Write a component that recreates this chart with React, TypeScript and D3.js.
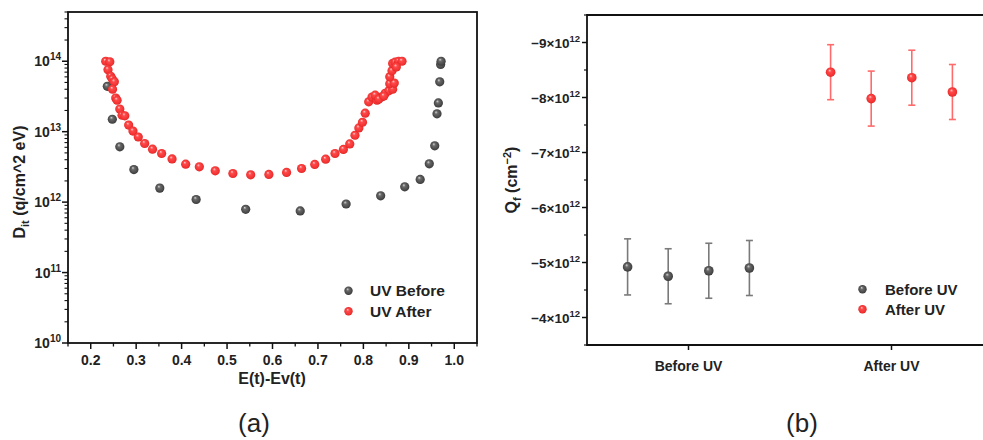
import React from 'react';
import * as d3 from 'd3';

// ---------- Data: panel (a) ----------
const beforeE = [0.2365, 0.2475, 0.264, 0.295, 0.352, 0.432, 0.541, 0.661, 0.762, 0.838, 0.891, 0.925, 0.945, 0.957, 0.962, 0.965, 0.968, 0.970, 0.971];
const beforeDit = [4.4e13, 1.5e13, 6.1e12, 2.9e12, 1.58e12, 1.09e12, 7.9e11, 7.5e11, 9.4e11, 1.23e12, 1.65e12, 2.1e12, 3.5e12, 6.3e12, 1.79e13, 2.56e13, 5.1e13, 9.0e13, 1.0e14];
const afterE = [0.233, 0.242, 0.238, 0.244, 0.2475, 0.252, 0.248, 0.255, 0.258, 0.264, 0.269, 0.275, 0.2835, 0.293, 0.3046, 0.3187, 0.336, 0.356, 0.379, 0.409, 0.439, 0.474, 0.5128, 0.552, 0.592, 0.631, 0.664, 0.693, 0.717, 0.7376, 0.756, 0.770, 0.7815, 0.790, 0.798, 0.804, 0.8117, 0.819, 0.830, 0.8396, 0.848, 0.856, 0.8644, 0.858, 0.868, 0.858, 0.863, 0.8644, 0.870, 0.8776, 0.885, 0.8725, 0.826, 0.834, 0.845];
const afterDit = [1.0e14, 9.8e13, 7.6e13, 6.1e13, 5.6e13, 5.1e13, 4.0e13, 3.0e13, 2.8e13, 2.1e13, 1.71e13, 1.68e13, 1.24e13, 1.02e13, 8.4e12, 6.8e12, 5.65e12, 4.9e12, 4.1e12, 3.46e12, 3.17e12, 2.78e12, 2.55e12, 2.44e12, 2.47e12, 2.64e12, 3.0e12, 3.43e12, 4.07e12, 4.9e12, 5.6e12, 6.7e12, 8.9e12, 1.13e13, 1.36e13, 1.83e13, 2.65e13, 3.1e13, 2.8e13, 3.1e13, 3.5e13, 3.8e13, 4.0e13, 4.8e13, 4.9e13, 6.0e13, 7.3e13, 9.3e13, 9.7e13, 1.0e14, 1.0e14, 8.3e13, 3.3e13, 2.9e13, 3.2e13];
const xTicksA = [0.2, 0.3, 0.4, 0.5, 0.6, 0.7, 0.8, 0.9, 1.0];
const yDecadesA = [10, 11, 12, 13, 14];
const legendA = ['UV Before', 'UV After'];

// ---------- Data: panel (b) ----------
const qCategories = ['Before UV', 'After UV'];
const qBeforeX = [0.7, 0.9, 1.1, 1.3];
const qBeforeVal = [-4.92e12, -4.75e12, -4.85e12, -4.90e12];
const qBeforeErr = [0.51e12, 0.5e12, 0.5e12, 0.5e12];
const qAfterX = [1.7, 1.9, 2.1, 2.3];
const qAfterVal = [-8.46e12, -7.98e12, -8.36e12, -8.10e12];
const qAfterErr = [0.5e12, 0.5e12, 0.5e12, 0.5e12];
const yTicksB = [-9, -8, -7, -6, -5, -4];
const legendB = ['Before UV', 'After UV'];

const FONT = '"Liberation Sans", Arial, Helvetica, sans-serif';
const AXIS = '#111';

function Sphere({ cx, cy, r, fill }: { cx: number; cy: number; r: number; fill: string }) {
  return <circle cx={cx} cy={cy} r={r} fill={fill} />;
}

export default function App() {
  // Panel (a) scales
  const xA = d3.scaleLinear().domain([0.15, 1.05]).range([68, 477]);
  const yA = d3.scaleLog().domain([1e10, 5e14]).range([343, 12]);
  const minorX = d3.range(0.15, 1.051, 0.1).map((v) => +v.toFixed(2));
  const minorY: number[] = [];
  for (let e = 10; e <= 14; e++) {
    for (let m = 2; m <= 9; m++) {
      const v = m * Math.pow(10, e);
      if (v <= 5e14) minorY.push(v);
    }
  }

  // Panel (b) scales
  const xB = d3.scaleLinear().domain([0.5, 2.5]).range([587, 993]);
  const yB = d3.scaleLinear().domain([-3.5e12, -9.5e12]).range([345, 15]);
  const minorYB = [-9.5, -8.5, -7.5, -6.5, -5.5, -4.5, -3.5];

  const grayFill = 'url(#gGray)';
  const redFill = 'url(#gRed)';

  return (
    <svg width={983} height={440} style={{ position: 'absolute', left: 0, top: 0, background: '#fff' }} fontFamily={FONT}>
      <defs>
        <radialGradient id="gGray" cx="0.5" cy="0.5" r="0.55" fx="0.38" fy="0.3">
          <stop offset="0" stopColor="#d8d8d8" />
          <stop offset="0.3" stopColor="#6a6a6a" />
          <stop offset="0.8" stopColor="#464646" />
          <stop offset="1" stopColor="#2e2e2e" />
        </radialGradient>
        <radialGradient id="gRed" cx="0.5" cy="0.5" r="0.55" fx="0.38" fy="0.3">
          <stop offset="0" stopColor="#ffd0d0" />
          <stop offset="0.3" stopColor="#ff4a4a" />
          <stop offset="0.8" stopColor="#f03030" />
          <stop offset="1" stopColor="#d41c1c" />
        </radialGradient>
      </defs>
      <rect x={0} y={0} width={983} height={440} fill="#fff" />

      {/* ================= Panel (a) ================= */}
      <g>
        <rect x={68} y={12} width={477 - 68} height={343 - 12} fill="none" stroke={AXIS} strokeWidth={1.8} />
        {xTicksA.map((t) => (
          <g key={'xa' + t}>
            <line x1={xA(t)} x2={xA(t)} y1={343} y2={349} stroke={AXIS} strokeWidth={1.5} />
            <text x={xA(t)} y={365} textAnchor="middle" fontSize={14} fontWeight="bold" fill="#222">{t.toFixed(1)}</text>
          </g>
        ))}
        {minorX.map((t) => (
          <line key={'mxa' + t} x1={xA(t)} x2={xA(t)} y1={343} y2={346.5} stroke={AXIS} strokeWidth={1.3} />
        ))}
        {yDecadesA.map((e) => {
          const y = yA(Math.pow(10, e));
          return (
            <g key={'ya' + e}>
              <line x1={62} x2={68} y1={y} y2={y} stroke={AXIS} strokeWidth={1.5} />
              <text x={61} y={y + 5} textAnchor="end" fontSize={14} fontWeight="bold" fill="#222">
                <tspan>10</tspan>
                <tspan dy={-6} fontSize={10}>{e}</tspan>
              </text>
            </g>
          );
        })}
        {minorY.map((v) => (
          <line key={'mya' + v} x1={64.5} x2={68} y1={yA(v)} y2={yA(v)} stroke={AXIS} strokeWidth={1.1} />
        ))}
        <text x={272} y={384} textAnchor="middle" fontSize={16} fontWeight="bold" fill="#222">E(t)-Ev(t)</text>
        <text transform="translate(25,182) rotate(-90)" textAnchor="middle" fontSize={16} fontWeight="bold" fill="#222">
          <tspan>D</tspan>
          <tspan dy={4} fontSize={11}>it</tspan>
          <tspan dy={-4}> (q/cm^2 eV)</tspan>
        </text>
        {beforeE.map((e, i) => (
          <Sphere key={'ba' + i} cx={xA(e)} cy={yA(beforeDit[i])} r={4.6} fill={grayFill} />
        ))}
        {afterE.map((e, i) => (
          <Sphere key={'aa' + i} cx={xA(e)} cy={yA(afterDit[i])} r={4.6} fill={redFill} />
        ))}
        {legendA.map((l, i) => (
          <g key={'la' + i}>
            <Sphere cx={348.5} cy={290.7 + i * 20.6} r={4.2} fill={i === 0 ? grayFill : redFill} />
            <text x={370} y={296 + i * 20.6} fontSize={15.5} fontWeight="bold" fill="#222">{l}</text>
          </g>
        ))}
        <text x={254} y={432} textAnchor="middle" fontSize={26} fill="#222">(a)</text>
      </g>

      {/* ================= Panel (b) ================= */}
      <g>
        <line x1={587} x2={1000} y1={15} y2={15} stroke={AXIS} strokeWidth={1.8} />
        <line x1={587} x2={1000} y1={345} y2={345} stroke={AXIS} strokeWidth={1.8} />
        <line x1={587} x2={587} y1={14} y2={346} stroke={AXIS} strokeWidth={1.8} />
        {yTicksB.map((t) => {
          const y = yB(t * 1e12);
          return (
            <g key={'yb' + t}>
              <line x1={582} x2={587} y1={y} y2={y} stroke={AXIS} strokeWidth={1.5} />
              <text x={580} y={y + 5} textAnchor="end" fontSize={13.5} fontWeight="bold" fill="#222">
                <tspan>{'\u2212' + Math.abs(t) + '\u00d710'}</tspan>
                <tspan dy={-6} fontSize={9.5}>12</tspan>
              </text>
            </g>
          );
        })}
        {minorYB.map((t) => (
          <line key={'myb' + t} x1={584} x2={587} y1={yB(t * 1e12)} y2={yB(t * 1e12)} stroke={AXIS} strokeWidth={1.2} />
        ))}
        {qCategories.map((c, i) => (
          <g key={'xb' + c}>
            <line x1={xB(i + 1)} x2={xB(i + 1)} y1={345} y2={350} stroke={AXIS} strokeWidth={1.5} />
            <text x={xB(i + 1)} y={370.5} textAnchor="middle" fontSize={14} fontWeight="bold" fill="#222">{c}</text>
          </g>
        ))}
        <text transform="translate(517,180) rotate(-90)" textAnchor="middle" fontSize={16} fontWeight="bold" fill="#222">
          <tspan>Q</tspan>
          <tspan dy={4} fontSize={11}>f</tspan>
          <tspan dy={-4}> (cm</tspan>
          <tspan dy={-6} fontSize={11}>{'\u22122'}</tspan>
          <tspan dy={6}>)</tspan>
        </text>
        {qBeforeX.map((x, i) => {
          const cx = xB(x);
          const y0 = yB(qBeforeVal[i] - qBeforeErr[i]);
          const y1 = yB(qBeforeVal[i] + qBeforeErr[i]);
          return (
            <g key={'qb' + i}>
              <line x1={cx} x2={cx} y1={y0} y2={y1} stroke="#7a7a7a" strokeWidth={1.6} />
              <line x1={cx - 3.5} x2={cx + 3.5} y1={y0} y2={y0} stroke="#7a7a7a" strokeWidth={1.6} />
              <line x1={cx - 3.5} x2={cx + 3.5} y1={y1} y2={y1} stroke="#7a7a7a" strokeWidth={1.6} />
              <Sphere cx={cx} cy={yB(qBeforeVal[i])} r={4.8} fill={grayFill} />
            </g>
          );
        })}
        {qAfterX.map((x, i) => {
          const cx = xB(x);
          const y0 = yB(qAfterVal[i] - qAfterErr[i]);
          const y1 = yB(qAfterVal[i] + qAfterErr[i]);
          return (
            <g key={'qa' + i}>
              <line x1={cx} x2={cx} y1={y0} y2={y1} stroke="#ff6a6a" strokeWidth={1.6} />
              <line x1={cx - 3.5} x2={cx + 3.5} y1={y0} y2={y0} stroke="#ff6a6a" strokeWidth={1.6} />
              <line x1={cx - 3.5} x2={cx + 3.5} y1={y1} y2={y1} stroke="#ff6a6a" strokeWidth={1.6} />
              <Sphere cx={cx} cy={yB(qAfterVal[i])} r={4.8} fill={redFill} />
            </g>
          );
        })}
        {legendB.map((l, i) => (
          <g key={'lb' + i}>
            <Sphere cx={862.5} cy={289.3 + i * 20} r={4.2} fill={i === 0 ? grayFill : redFill} />
            <text x={885} y={295 + i * 20} fontSize={15} fontWeight="bold" fill="#222">{l}</text>
          </g>
        ))}
        <text x={802} y={432} textAnchor="middle" fontSize={26} fill="#222">(b)</text>
      </g>
    </svg>
  );
}
